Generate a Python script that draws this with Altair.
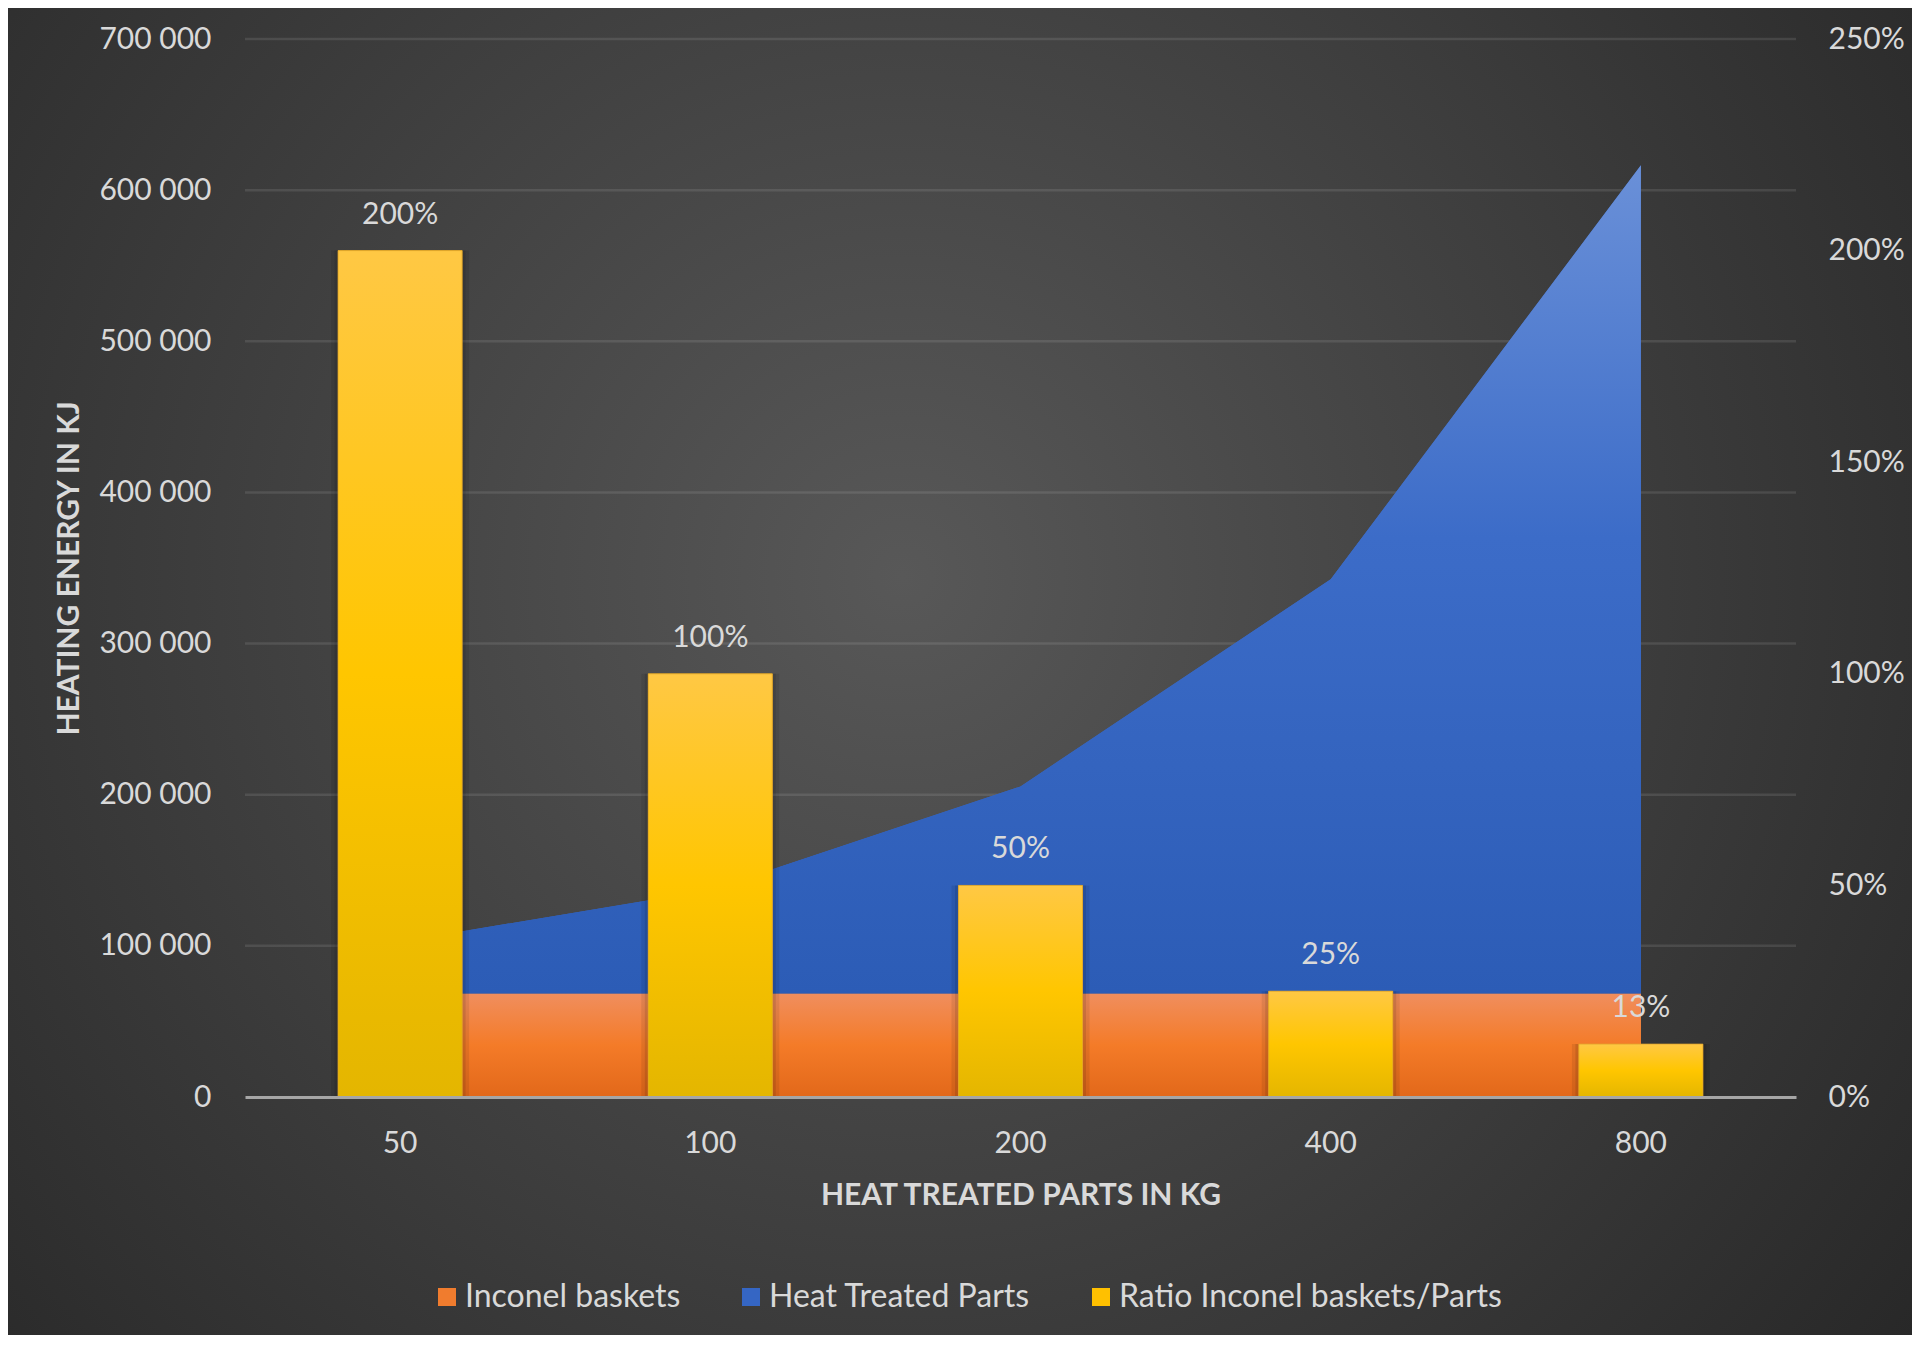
import altair as alt
import pandas as pd

# ---- data ----
categories = ["50", "100", "200", "400", "800"]
inconel_baskets = [68500, 68500, 68500, 68500, 68500]
heat_treated_parts = [34250, 68500, 137000, 274000, 548000]
ratio = [2.0, 1.0, 0.5, 0.25, 0.125]
ratio_labels = ["200%", "100%", "50%", "25%", "13%"]
left_ticks = [0, 100000, 200000, 300000, 400000, 500000, 600000, 700000]
grid_ticks = [100000, 200000, 300000, 400000, 500000, 600000, 700000]
right_ticks = [0, 0.5, 1.0, 1.5, 2.0, 2.5]
series_names = ["Inconel baskets", "Heat Treated Parts", "Ratio Inconel baskets/Parts"]
series_colors = ["#F07C2E", "#3566C4", "#FFC000"]

W, H = 1551, 1058
PAD = {"left": 237, "top": 31, "right": 116, "bottom": 238}
FONT = "Lato"
TXT = "#D9D9D9"

df = pd.DataFrame({
    "cat": categories,
    "zero": [0] * 5,
    "baskets": inconel_baskets,
    "parts": heat_treated_parts,
    "total": [a + b for a, b in zip(inconel_baskets, heat_treated_parts)],
    "ratio": ratio,
    "label": ratio_labels,
    "series": [series_names[2]] * 5,
})

long_rows = []
for i, c in enumerate(categories):
    long_rows.append({"cat": c, "series": series_names[0], "lo": 0, "hi": inconel_baskets[i]})
    long_rows.append({"cat": c, "series": series_names[1], "lo": inconel_baskets[i],
                      "hi": inconel_baskets[i] + heat_treated_parts[i]})
df_long = pd.DataFrame(long_rows)

xenc = alt.X("cat:N", sort=categories,
             scale=alt.Scale(paddingInner=0.6, paddingOuter=0.3),
             axis=alt.Axis(title="HEAT TREATED PARTS IN KG", labelAngle=0, domain=True,
                           domainColor="#A6A6A6", domainWidth=3, labelPadding=31,
                           titlePadding=22, zindex=1))

yscale_left = alt.Scale(domain=[0, 700000], nice=False)
yscale_right = alt.Scale(domain=[0, 2.5], nice=False)

color_scale = alt.Scale(domain=series_names, range=series_colors)
legend = alt.Legend(title=None, orient="none", direction="horizontal",
                    legendX=186, legendY=1242, symbolType="square", symbolSize=324,
                    symbolStrokeWidth=0, labelFontSize=32, labelColor=TXT, labelFont=FONT,
                    labelOffset=2, columnPadding=54, symbolOpacity=1, labelLimit=0)

def lin(stops):
    return alt.LinearGradient(gradient="linear", x1=0, y1=0, x2=0, y2=1,
                              stops=[alt.GradientStop(offset=o, color=c) for o, c in stops])

bg_grad = alt.RadialGradient(gradient="radial", x1=0.47, y1=0.45, r1=0, x2=0.47, y2=0.45, r2=0.72,
                             stops=[alt.GradientStop(offset=0, color="#585858"),
                                    alt.GradientStop(offset=1, color="#242424")])

bg = alt.Chart(pd.DataFrame({"k": [0]})).mark_rect(fill=bg_grad, clip=False).encode(
    x=alt.value(-PAD["left"]), x2=alt.value(W + PAD["right"]),
    y=alt.value(-PAD["top"]), y2=alt.value(H + PAD["bottom"]))

grid = alt.Chart(pd.DataFrame({"g": grid_ticks})).mark_rule(
    color="#FFFFFF", opacity=0.1, strokeWidth=2.5).encode(
    y=alt.Y("g:Q", scale=yscale_left,
            axis=alt.Axis(values=left_ticks, title="HEATING ENERGY IN KJ",
                          labelExpr="replace(format(datum.value, ','), regexp(',', 'g'), ' ')",
                          labelPadding=34, titlePadding=14, orient="left", zindex=1)))

area_solid = alt.Chart(df_long).mark_area().encode(
    x=xenc,
    y=alt.Y("hi:Q", scale=yscale_left),
    y2="lo:Q",
    color=alt.Color("series:N", scale=color_scale, legend=legend),
    detail="series:N",
)

orange_grad = lin([(0, "#F08E5E"), (0.5, "#F47B28"), (1, "#E2681A")])
blue_grad = lin([(0, "#6A90D8"), (0.45, "#3C6CC8"), (1, "#2C5CB6")])
yellow_grad = lin([(0, "#FFC844"), (0.5, "#FFC600"), (1, "#E4B600")])

area_orange = alt.Chart(df).mark_area(fill=orange_grad).encode(
    x=xenc, y=alt.Y("baskets:Q", scale=yscale_left), y2="zero:Q")
area_blue = alt.Chart(df).mark_area(fill=blue_grad).encode(
    x=xenc, y=alt.Y("total:Q", scale=yscale_left), y2="baskets:Q")

left = alt.layer(bg, grid, area_solid, area_orange, area_blue)

ryenc = alt.Y("ratio:Q", scale=yscale_right,
              axis=alt.Axis(values=right_ticks, format=".0%", orient="right", title=None,
                            labelPadding=32, zindex=1))

bar_shadow1 = alt.Chart(df).mark_bar(color="#000000", opacity=0.08, size=138).encode(
    x=xenc, y=ryenc)
bar_shadow2 = alt.Chart(df).mark_bar(color="#000000", opacity=0.1, size=131).encode(
    x=xenc, y=ryenc)
bar_solid = alt.Chart(df).mark_bar().encode(
    x=xenc, y=ryenc,
    color=alt.Color("series:N", scale=color_scale, legend=legend))
bar_grad = alt.Chart(df).mark_bar(fill=yellow_grad, stroke="#E3A62A", strokeWidth=1,
                                  strokeOpacity=0.8).encode(x=xenc, y=ryenc)
bar_text = alt.Chart(df).mark_text(baseline="middle", dy=-36, fontSize=30, font=FONT,
                                   color=TXT).encode(x=xenc, y=ryenc, text="label:N")

right = alt.layer(bar_shadow1, bar_shadow2, bar_solid, bar_grad, bar_text)

chart = alt.layer(left, right).resolve_scale(y="independent").properties(
    width=W, height=H, padding=PAD,
    autosize=alt.AutoSizeParams(type="none"),
    background="#2A2A2A",
).configure_view(stroke=None).configure_axis(
    labelFont=FONT, labelFontSize=30, labelColor=TXT,
    titleFont=FONT, titleFontSize=30, titleFontWeight="bold", titleColor=TXT,
    grid=False, ticks=False, domain=False,
).configure_axisX(domain=True, domainColor="#A6A6A6", domainWidth=3)

chart.save("out.html", embed_options={"renderer": "svg", "actions": False})
